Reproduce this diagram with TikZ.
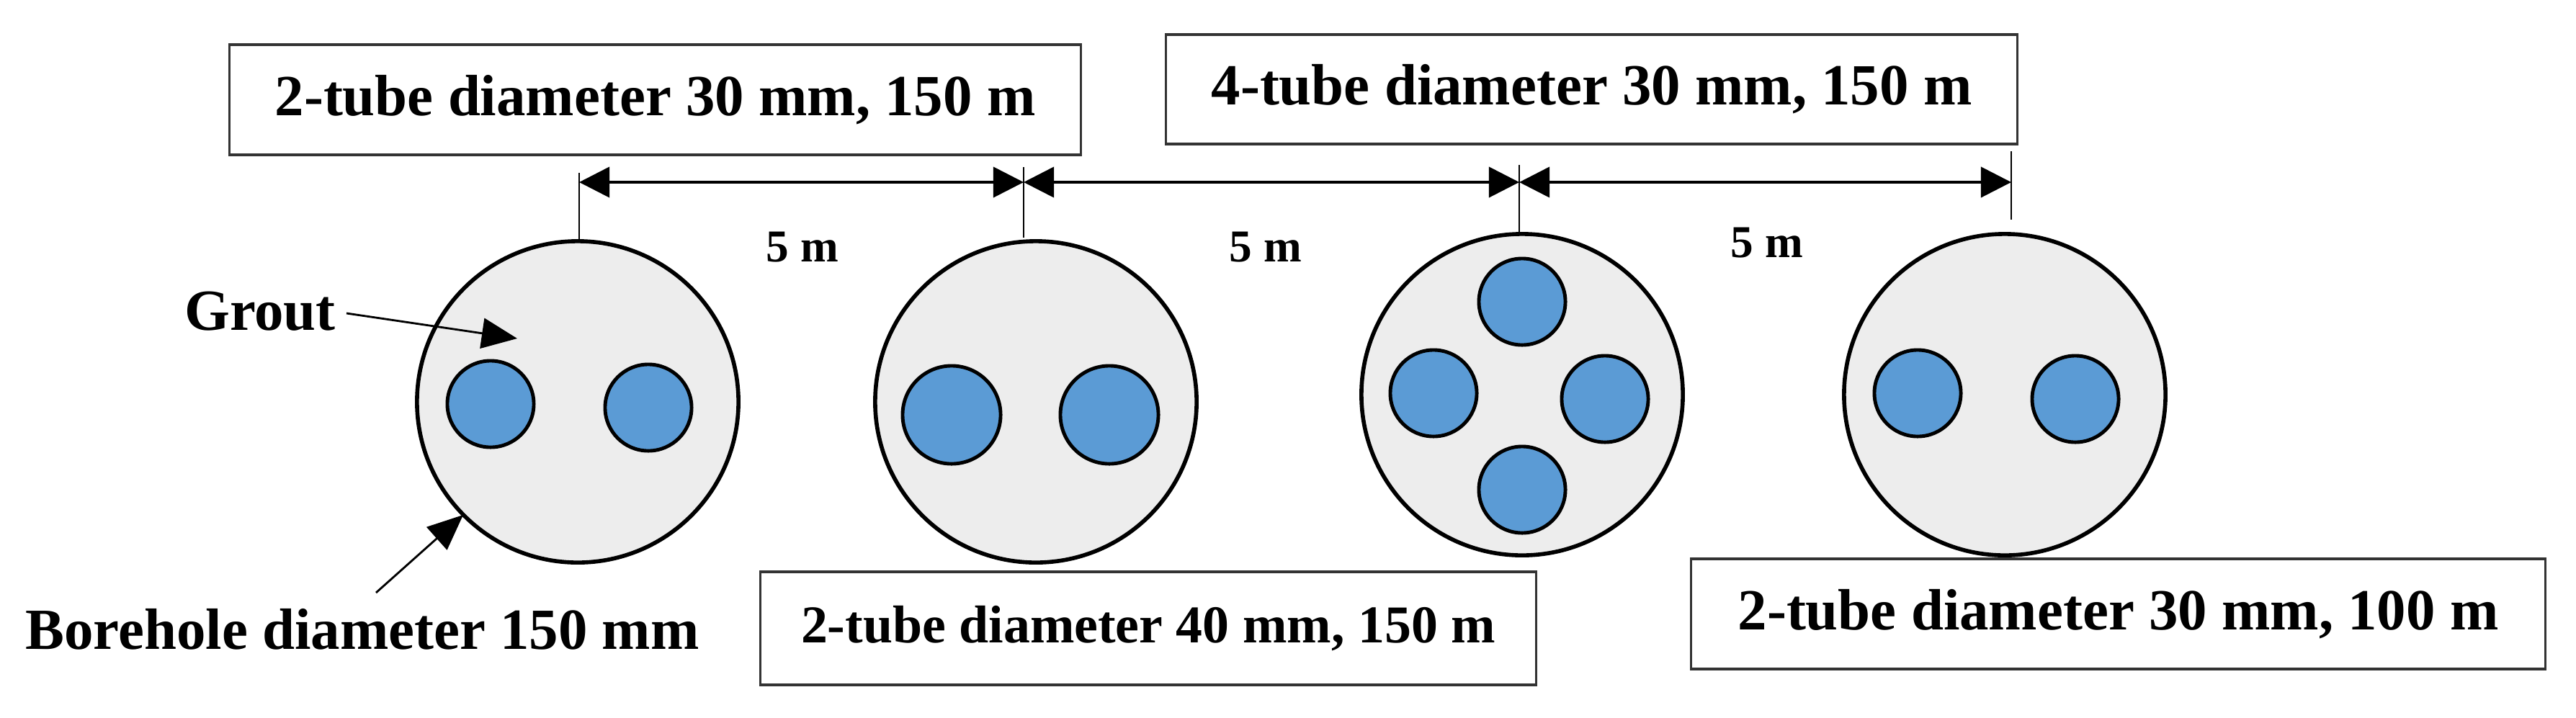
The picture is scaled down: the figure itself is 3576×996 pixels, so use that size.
\documentclass[tikz,border=0pt]{standalone}
\usepackage{fontspec}
\setmainfont{Liberation Serif}
\usetikzlibrary{arrows.meta}
\begin{document}
\begin{tikzpicture}[x=0.01cm,y=-0.01cm,
  lbox/.style={draw=black!80,line width=1pt,inner sep=0pt,font=\fontsize{23}{26}\selectfont\bfseries},
  lbl/.style={font=\fontsize{23}{26}\selectfont\bfseries,inner sep=0pt},
  dim/.style={line width=1.1pt,{Triangle[length=12pt,width=12pt]}-{Triangle[length=12pt,width=12pt]}},
  tick/.style={line width=0.8pt}]
\definecolor{tubeblue}{RGB}{91,155,213}
\useasboundingbox (0,0) rectangle (3576,996);
\tikzset{hole/.style={draw=black,line width=1.6pt,fill=black!7,circle,minimum size=4.46cm,inner sep=0pt},
  tube/.style={draw=black,line width=1.4pt,fill=tubeblue,circle,inner sep=0pt}}
% boreholes
\node[hole] (h1) at (802,558) {};
\node[hole] (h2) at (1438,558) {};
\node[hole] (h3) at (2113,548) {};
\node[hole] (h4) at (2783,548) {};
% tubes
\node[tube,minimum size=1.2cm] (t11) at (681,561) {};
\node[tube,minimum size=1.2cm] (t12) at (900,566) {};
\node[tube,minimum size=1.36cm] (t21) at (1321,576) {};
\node[tube,minimum size=1.36cm] (t22) at (1540,576) {};
\node[tube,minimum size=1.2cm] (t3n) at (2113,419) {};
\node[tube,minimum size=1.2cm] (t3w) at (1990,546) {};
\node[tube,minimum size=1.2cm] (t3e) at (2228,554) {};
\node[tube,minimum size=1.2cm] (t3s) at (2113,680) {};
\node[tube,minimum size=1.2cm] (t41) at (2662,546) {};
\node[tube,minimum size=1.2cm] (t42) at (2881,554) {};
% boxes
\node[lbox,minimum width=11.81cm,minimum height=1.53cm] (b1) at (909.5,138.5) {2-tube diameter 30 mm, 150 m};
\node[lbox,minimum width=11.81cm,minimum height=1.52cm] (b2) at (2209.5,124) {4-tube diameter 30 mm, 150 m};
\node[lbox,minimum width=10.76cm,minimum height=1.57cm,font=\fontsize{21}{24}\selectfont\bfseries] (b3) at (1594,872.5) {2-tube diameter 40 mm, 150 m};
\node[lbox,minimum width=11.85cm,minimum height=1.53cm] (b4) at (2940.5,852.5) {2-tube diameter 30 mm, 100 m};
% ticks
\coordinate (a1) at (804,240); \coordinate (a1b) at (804,337);
\coordinate (a2) at (1421,232); \coordinate (a2b) at (1421,330);
\coordinate (a3) at (2109,229); \coordinate (a3b) at (2109,327);
\coordinate (a4) at (2792,210); \coordinate (a4b) at (2792,305);
\draw[tick] (a1) -- (a1b); \draw[tick] (a2) -- (a2b);
\draw[tick] (a3) -- (a3b); \draw[tick] (a4) -- (a4b);
\coordinate (d1) at (804,253); \coordinate (d2) at (1421,253);
\coordinate (d3) at (2109,253); \coordinate (d4) at (2792,253);
\draw[dim] (d1) -- (d2);
\draw[dim] (d2) -- (d3);
\draw[dim] (d3) -- (d4);
\node[lbl,font=\fontsize{18}{20}\selectfont\bfseries] (m1) at (1114,343) {5 m};
\node[lbl,font=\fontsize{18}{20}\selectfont\bfseries] (m2) at (1757,343) {5 m};
\node[lbl,font=\fontsize{18}{20}\selectfont\bfseries] (m3) at (2453,337) {5 m};
% annotations
\node[lbl] (grout) at (361,432) {Grout};
\node[lbl] (bore) at (503,874) {Borehole diameter 150 mm};
\coordinate (gs) at (481,435);
\coordinate (gt) at (718,470);
\coordinate (bs) at (522,823);
\coordinate (bt) at (643,715);
\draw[line width=0.8pt,-{Triangle[length=14pt,width=12pt]}] (gs) -- (gt);
\draw[line width=0.8pt,-{Triangle[length=14pt,width=12pt]}] (bs) -- (bt);
\end{tikzpicture}
\end{document}
